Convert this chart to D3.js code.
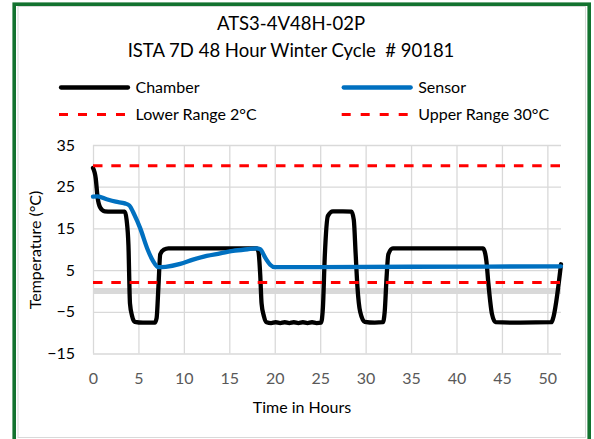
<!DOCTYPE html>
<html>
<head>
<meta charset="utf-8">
<script src="https://cdn.jsdelivr.net/npm/d3@7"></script>
<style>
  body { margin: 0; background: #fff; }
  text { font-family: Lato, "Open Sans", sans-serif; white-space: pre; }
</style>
</head>
<body>
<div id="chart"></div>
<script>
// Chart data
var chamberHours = [0, 0.3, 0.5, 0.8, 1.3, 2, 3.5, 3.7, 3.9, 4.07, 4.3, 4.6, 5.5, 6.8, 7.0, 7.2, 7.4, 7.8, 8.3, 12, 18.0, 18.2, 18.4, 18.55, 18.8, 19.1,
    19.6, 20.1, 20.6, 21.1, 21.6, 22.1, 22.6, 23.1, 23.6, 24.1, 24.6, 25.1, 25.3, 25.5, 25.85, 26.4, 27.5, 28.45, 28.7, 28.9, 29.1, 29.4, 29.9,
    31.0, 31.9, 32.1, 32.3, 32.5, 33.0, 38, 42.9, 43.1, 43.3, 43.5, 43.9, 44.3, 47, 50.45, 50.6, 51.5];
var chamberTemps = [29.5, 27, 22.5, 20, 19.1, 19, 19, 17, 11, -3, -6, -7.4, -7.6, -7.6, -6.5, 1, 8.8, 9.9, 10.2, 10.2, 10.2, 9.5, 4, -3, -6, -7.5,
    -7.7, -7.5, -7.7, -7.5, -7.7, -7.5, -7.7, -7.5, -7.7, -7.5, -7.7, -7.6, -4, 8, 18, 19.1, 19.1, 19, 17, 9, 1, -5, -7.4,
    -7.6, -7.5, -5, 3, 8.8, 10.2, 10.2, 10.2, 9.5, 7, 2, -5.5, -7.5, -7.6, -7.5, -6.8, 6.4];

var sensorHours = [0, 0.5, 1.5, 2.5, 3.5, 4.0, 4.5, 5.2, 6.0, 6.6, 7.2, 8, 9.6, 11, 12.5, 14, 15.4, 17, 18, 18.4, 19.0, 19.5, 20.0, 21, 35, 51.5];
var sensorTemps = [22.6, 22.7, 22, 21.4, 21, 20.5, 18.5, 15, 10, 7.2, 5.7, 5.8, 6.5, 7.5, 8.4, 9, 9.6, 10, 10.2, 10, 7.8, 6.3, 5.7, 5.7, 5.8, 5.9];

var lowerRange = 2;
var upperRange = 30;

var xTicks = [0, 5, 10, 15, 20, 25, 30, 35, 40, 45, 50];
var yTicks = [-15, -5, 5, 15, 25, 35];

var titleLines = ["ATS3-4V48H-02P", "ISTA 7D 48 Hour Winter Cycle  # 90181"];
var legendNames = ["Chamber", "Sensor", "Lower Range 2°C", "Upper Range 30°C"];

// Set up SVG
var svgWidth = 594;
var svgHeight = 439;

var plot = { left: 93, right: 561, top: 145, bottom: 353.5 };

var svg = d3.select("#chart")
  .append("svg")
  .attr("width", svgWidth)
  .attr("height", svgHeight);

// frame: green outer border, light grey chart area border
svg.append("rect")
  .attr("x", 18).attr("y", 6.5)
  .attr("width", 567.5).attr("height", 431)
  .attr("fill", "#fff")
  .attr("stroke", "#d9d9d9")
  .attr("stroke-width", 1);

svg.append("rect")
  .attr("x", 14.2).attr("y", 4.2)
  .attr("width", 575).attr("height", 450)
  .attr("fill", "none")
  .attr("stroke", "#13722f")
  .attr("stroke-width", 3.6);

// Scales
var xScale = d3.scaleLinear().domain([0, 51.5]).range([plot.left, plot.right]);
var yScale = d3.scaleLinear().domain([-15, 35]).range([plot.bottom, plot.top]);

// Gridlines
var xGrid = svg.append("g")
  .attr("transform", `translate(0, ${plot.bottom})`)
  .call(d3.axisBottom(xScale).tickValues(xTicks).tickSize(-(plot.bottom - plot.top)).tickFormat(""));
var yGrid = svg.append("g")
  .attr("transform", `translate(${plot.left}, 0)`)
  .call(d3.axisLeft(yScale).tickValues(yTicks).tickSize(-(plot.right - plot.left)).tickFormat(""));
[xGrid, yGrid].forEach(function(g) {
  g.select(".domain").remove();
  g.selectAll("line").attr("stroke", "#d9d9d9").attr("stroke-width", 1.3);
});

// horizontal axis line crosses at 0
svg.append("line")
  .attr("x1", xScale(0)).attr("x2", xScale(51.5))
  .attr("y1", yScale(0)).attr("y2", yScale(0))
  .attr("stroke", "#d9d9d9")
  .attr("stroke-width", 6);

// Tick labels
var xAxis = svg.append("g")
  .attr("transform", `translate(0, ${plot.bottom})`)
  .call(d3.axisBottom(xScale).tickValues(xTicks).tickSize(0).tickPadding(0));
xAxis.select(".domain").remove();
xAxis.selectAll("text")
  .attr("y", 24.5).attr("dy", "0.35em")
  .attr("fill", "#595959")
  .attr("font-size", 16)
  .style("font-family", "Lato, sans-serif");

var yAxis = svg.append("g")
  .attr("transform", `translate(${plot.left}, 0)`)
  .call(d3.axisLeft(yScale).tickValues(yTicks).tickSize(0).tickPadding(18));
yAxis.select(".domain").remove();
yAxis.selectAll("text")
  .attr("fill", "#000")
  .attr("font-size", 16)
  .style("font-family", "Lato, sans-serif");

// Axis titles
svg.append("text")
  .attr("x", 302).attr("y", 407).attr("dy", "0.35em")
  .attr("text-anchor", "middle")
  .attr("font-size", 16)
  .attr("fill", "#000")
  .text("Time in Hours");

svg.append("text")
  .attr("transform", "translate(35, 250) rotate(-90)")
  .attr("dy", "0.35em")
  .attr("text-anchor", "middle")
  .attr("font-size", 16)
  .attr("fill", "#000")
  .text("Temperature (°C)");

// Series
var lineGen = d3.line()
  .x(d => xScale(d[0]))
  .y(d => yScale(d[1]))
  .curve(d3.curveMonotoneX);

var chamberData = chamberHours.map((h, i) => [h, chamberTemps[i]]);
var sensorData = sensorHours.map((h, i) => [h, sensorTemps[i]]);

svg.append("path")
  .datum(chamberData)
  .attr("d", lineGen)
  .attr("fill", "none")
  .attr("stroke", "#000")
  .attr("stroke-width", 4.3)
  .attr("stroke-linejoin", "round")
  .attr("stroke-linecap", "round");

svg.append("path")
  .datum(sensorData)
  .attr("d", lineGen)
  .attr("fill", "none")
  .attr("stroke", "#0070c0")
  .attr("stroke-width", 4.3)
  .attr("stroke-linejoin", "round")
  .attr("stroke-linecap", "round");

[lowerRange, upperRange].forEach(function(v) {
  svg.append("line")
    .attr("x1", xScale(0)).attr("x2", xScale(51.5))
    .attr("y1", yScale(v)).attr("y2", yScale(v))
    .attr("stroke", "#ff0000")
    .attr("stroke-width", 3)
    .attr("stroke-dasharray", "9.5,8.8");
});

// Title
svg.selectAll(".title")
  .data(titleLines)
  .enter()
  .append("text")
  .attr("class", "title")
  .attr("x", 291)
  .attr("y", (d, i) => 24 + i * 27)
  .attr("dy", "0.35em")
  .attr("text-anchor", "middle")
  .attr("font-size", 18.5)
  .attr("fill", "#000")
  .attr("xml:space", "preserve")
  .text(d => d);

// Legend
var legendPos = [
  { x: 59, y: 87.5, color: "#000", dash: null },
  { x: 341.7, y: 87.5, color: "#0070c0", dash: null },
  { x: 59, y: 114.5, color: "#ff0000", dash: "9,10" },
  { x: 341.7, y: 114.5, color: "#ff0000", dash: "9,10" }
];

legendNames.forEach(function(name, i) {
  var p = legendPos[i];
  svg.append("line")
    .attr("x1", p.x + (p.dash ? 0 : 2)).attr("x2", p.x + (p.dash ? 67 : 69))
    .attr("y1", p.y).attr("y2", p.y)
    .attr("stroke", p.color)
    .attr("stroke-width", p.dash ? 3 : 4.3)
    .attr("stroke-linecap", p.dash ? "butt" : "round")
    .attr("stroke-dasharray", p.dash);
  svg.append("text")
    .attr("x", p.x + 76.5)
    .attr("y", p.y)
    .attr("dy", "0.35em")
    .attr("font-size", 16)
    .attr("fill", "#000")
    .text(name);
});
</script>
</body>
</html>
